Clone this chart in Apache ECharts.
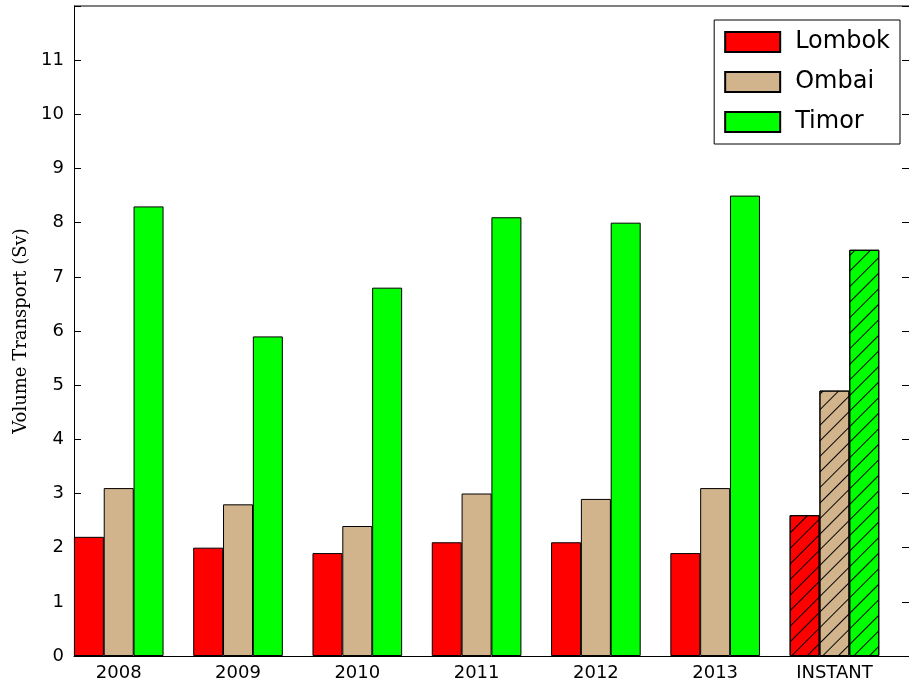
<!DOCTYPE html>
<html>
<head>
<meta charset="utf-8">
<script src="https://cdn.jsdelivr.net/npm/echarts@6/dist/echarts.min.js"></script>
<style>html,body{margin:0;padding:0;background:#fff}#main{width:909px;height:684px}</style>
</head>
<body>
<div id="main"></div>
<script>
var categories = ['2008', '2009', '2010', '2011', '2012', '2013', 'INSTANT'];
var lombok = [2.2, 2.0, 1.9, 2.1, 2.1, 1.9, 2.6];
var ombai = [3.1, 2.8, 2.4, 3.0, 2.9, 3.1, 4.9];
var timor = [8.3, 5.9, 6.8, 8.1, 8.0, 8.5, 7.5];
var yTicks = [0, 1, 2, 3, 4, 5, 6, 7, 8, 9, 10, 11];

var myChart = echarts.init(document.getElementById('main'));

var hatch = {
    symbol: 'rect', symbolSize: 1, dashArrayX: [1, 0], dashArrayY: [0.8, 10],
    rotation: -Math.PI / 4, color: '#000', backgroundColor: null
};

function build(vals, offset) {
    return vals.map(function (v, i) {
        var item = { value: [i + offset, v] };
        if (categories[i] === 'INSTANT') item.itemStyle = { decal: hatch };
        return item;
    });
}

function mkSeries(name, vals, offset, color) {
    return {
        name: name, type: 'bar', barWidth: 30, barGap: '-100%',
        itemStyle: { color: color, borderColor: '#000', borderWidth: 1 },
        data: build(vals, offset)
    };
}

var tickIdx = categories.map(function (c, i) { return i; });
var font = 'DejaVu Sans';

var option = {
    animation: false,
    grid: { left: 74, top: 6, width: 840, height: 650, containLabel: false },
    legend: {
        orient: 'vertical', right: 9, top: 20, padding: [10, 10, 10, 10],
        borderColor: '#000', borderWidth: 1, backgroundColor: '#fff',
        icon: 'rect', itemWidth: 55, itemHeight: 20, itemGap: 16,
        textStyle: { fontFamily: font, fontSize: 24, color: '#000', padding: [0, 0, 0, 10] },
        data: ['Lombok', 'Ombai', 'Timor']
    },
    xAxis: {
        type: 'value', min: -0.375, max: 6.625,
        splitLine: { show: false },
        axisLine: { show: true, onZero: false, lineStyle: { color: '#000' } },
        axisTick: { inside: true, length: 6, customValues: tickIdx, lineStyle: { color: '#000' } },
        axisLabel: {
            customValues: tickIdx, color: '#000', fontFamily: font, fontSize: 18, margin: 8,
            formatter: function (v) { return categories[Math.round(v)]; }
        }
    },
    yAxis: [{
        type: 'value', min: 0, max: 12, interval: 1,
        name: 'Volume Transport (Sv)', nameLocation: 'middle', nameGap: 44,
        nameTextStyle: { fontFamily: 'DejaVu Serif', fontSize: 18, color: '#000' },
        splitLine: { show: false },
        axisLine: { show: true, onZero: false, lineStyle: { color: '#000' } },
        axisTick: { inside: true, length: 7, lineStyle: { color: '#000' } },
        axisLabel: {
            color: '#000', fontFamily: font, fontSize: 18, margin: 10,
            formatter: function (v) { return yTicks.indexOf(v) >= 0 ? String(v) : ''; }
        }
    }, {
        type: 'value', min: 0, max: 12, interval: 1, position: 'right',
        splitLine: { show: false },
        axisLine: { show: true, onZero: false, lineStyle: { color: '#000' } },
        axisTick: { inside: true, length: 7, lineStyle: { color: '#000' } },
        axisLabel: { show: false }
    }],
    series: [
        mkSeries('Lombok', lombok, -0.25, '#ff0000'),
        mkSeries('Ombai', ombai, 0, '#d2b48c'),
        mkSeries('Timor', timor, 0.25, '#00ff00')
    ],
    graphic: [{
        type: 'line', shape: { x1: 74, y1: 6, x2: 914, y2: 6 },
        style: { stroke: '#000', lineWidth: 1 }
    }]
};

myChart.setOption(option);
</script>
</body>
</html>
